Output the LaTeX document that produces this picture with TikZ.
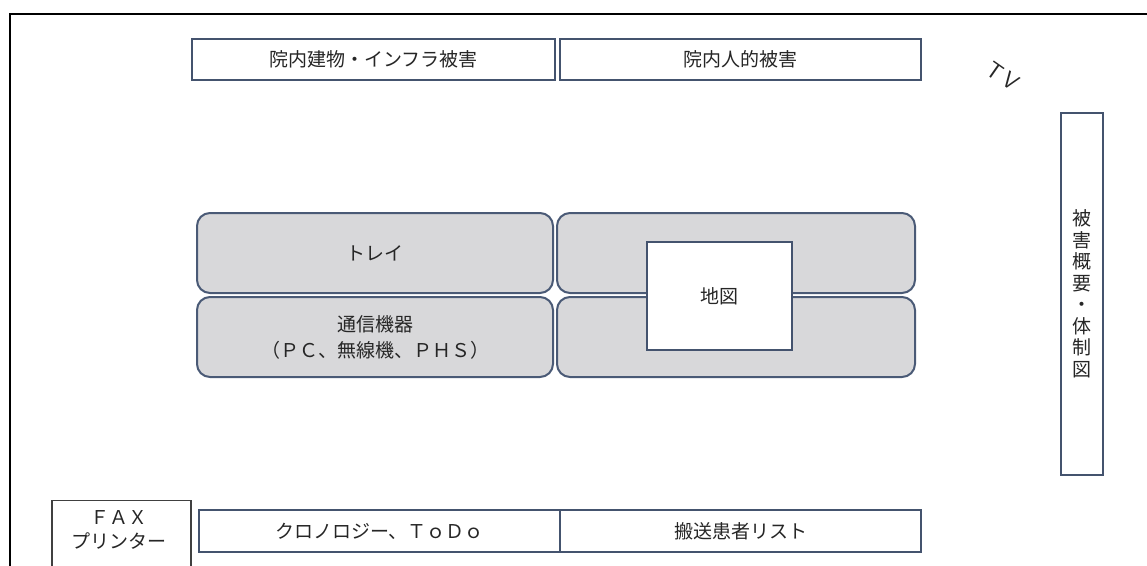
\documentclass[tikz,border=0pt]{standalone}
\usepackage{fontspec}
\setmainfont{Noto Sans CJK JP}
\begin{document}
\begin{tikzpicture}[x=1pt,y=-1pt,
  every node/.style={font=\fontsize{19}{22}\selectfont, text=black!85},
  flatbox/.style={draw=boxline, line width=1.8pt, fill=white, inner sep=0pt},
  graybox/.style={draw=grayline, line width=2pt, fill=grayfill, rounded corners=13pt, inner sep=0pt, minimum width=356, minimum height=80},
  mapbox/.style={draw=boxline, line width=2pt, fill=white, inner sep=0pt, minimum width=145, minimum height=108},
  faxbox/.style={draw=black!75, line width=1.4pt, fill=white, inner sep=0pt}
]
\definecolor{boxline}{HTML}{44536E}
\definecolor{grayline}{HTML}{4A5A76}
\definecolor{grayfill}{HTML}{D8D8DA}
\useasboundingbox (0,0) rectangle (1147,565);
\clip (0,0) rectangle (1147,565);
% outer frame
\coordinate (fb) at (10,600);
\coordinate (fc) at (10,14);
\coordinate (fr) at (1170,14);
\draw[line width=2.4pt, black] (fb) -- (fc) -- (fr);
% top boxes
\node[flatbox, minimum width=363, minimum height=41] (infra) at (373.5,59.5) {院内建物・インフラ被害};
\node[flatbox, minimum width=361, minimum height=41] (human) at (740.5,59.5) {院内人的被害};
% TV
\node[rotate=-35, inner sep=0pt, font=\fontsize{23}{23}\selectfont\sffamily] (tv) at (1003,76) {T\hspace{4pt}V};
% vertical box
\node[flatbox, minimum width=42, minimum height=362, align=center, font=\fontsize{19}{21.5}\selectfont] (summary) at (1082,294) {被\\害\\概\\要\\・\\体\\制\\図};
% gray rounded boxes
\node[graybox] (tray) at (375,253) {トレイ\hspace{10pt}};
\node[graybox, align=center, font=\fontsize{19}{26}\selectfont] (comm) at (375,337) {通信機器\\（ＰＣ、無線機、ＰＨＳ）};
\node[graybox, minimum width=358] (rt) at (736,253) {};
\node[graybox, minimum width=358] (rb) at (736,337) {};
\node[mapbox] (map) at (719.5,296) {地図};
% bottom boxes
\node[faxbox, minimum width=139, minimum height=130, anchor=north] (faxbg) at (121.5,500) {};
\node[align=center, font=\fontsize{19}{24}\selectfont] (fax) at (119,530) {ＦＡＸ\\プリンター};
\node[flatbox, minimum width=361, minimum height=42] (chrono) at (379.5,531) {クロノロジー、ＴｏＤｏ};
\node[flatbox, minimum width=361, minimum height=42] (list) at (740.5,531) {搬送患者リスト};
\end{tikzpicture}
\end{document}
